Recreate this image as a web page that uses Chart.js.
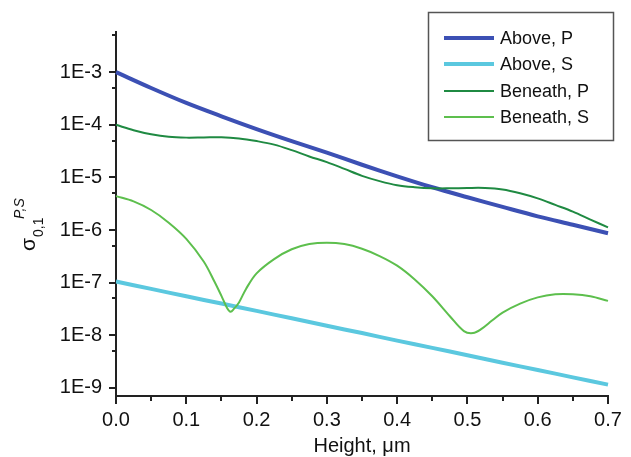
<!DOCTYPE html>
<html>
<head>
<meta charset="utf-8">
<script src="https://cdn.jsdelivr.net/npm/chart.js@4.4.0/dist/chart.umd.min.js"></script>
<style>
body { margin: 0; background: #fff; }
</style>
</head>
<body>
<canvas id="mycanvas" width="631" height="457"></canvas>
<script>
// values (log scale)
var heightAbove = [0, 0.05, 0.1, 0.15, 0.2, 0.25, 0.3, 0.35, 0.4, 0.45, 0.5, 0.55, 0.6, 0.65, 0.7];
var aboveP = [1.0e-3, 5.0e-4, 2.6e-4, 1.45e-4, 8.3e-5, 4.9e-5, 2.95e-5, 1.74e-5, 1.05e-5, 6.5e-6, 4.2e-6, 2.75e-6, 1.82e-6, 1.26e-6, 8.7e-7];
var aboveS = [1.05e-7, 7.6e-8, 5.5e-8, 4.0e-8, 2.9e-8, 2.1e-8, 1.51e-8, 1.10e-8, 7.9e-9, 5.75e-9, 4.17e-9, 3.0e-9, 2.19e-9, 1.58e-9, 1.15e-9];

var heightBeneathP = [0, 0.025, 0.05, 0.075, 0.1, 0.125, 0.15, 0.175, 0.2, 0.225, 0.25, 0.275, 0.3, 0.325, 0.35,
  0.375, 0.4, 0.425, 0.45, 0.475, 0.5, 0.525, 0.55, 0.575, 0.6, 0.625, 0.65, 0.675, 0.7];
var beneathP = [1.0e-4, 7.9e-5, 6.6e-5, 5.9e-5, 5.7e-5, 5.75e-5, 5.8e-5, 5.5e-5, 4.9e-5, 4.2e-5, 3.3e-5, 2.5e-5, 1.95e-5, 1.45e-5, 1.07e-5,
  8.5e-6, 7.1e-6, 6.5e-6, 6.2e-6, 6.2e-6, 6.3e-6, 6.3e-6, 5.9e-6, 5.0e-6, 4.0e-6, 3.0e-6, 2.24e-6, 1.58e-6, 1.12e-6];

var heightBeneathS = [0, 0.025, 0.05, 0.075, 0.1, 0.125, 0.14, 0.15, 0.158, 0.163, 0.168, 0.175, 0.185, 0.2, 0.225, 0.25,
  0.275, 0.3, 0.325, 0.35, 0.375, 0.4, 0.425, 0.45, 0.475, 0.495, 0.508, 0.52, 0.535, 0.55, 0.575, 0.6, 0.625, 0.65, 0.675, 0.7];
var beneathS = [4.4e-6, 3.5e-6, 2.4e-6, 1.38e-6, 6.8e-7, 2.5e-7, 1.05e-7, 5.6e-8, 3.3e-8, 2.8e-8, 3.2e-8, 4.2e-8, 7.6e-8, 1.5e-7, 2.8e-7, 4.3e-7,
  5.4e-7, 5.75e-7, 5.4e-7, 4.4e-7, 3.2e-7, 2.1e-7, 1.15e-7, 5.5e-8, 2.3e-8, 1.2e-8, 1.1e-8, 1.32e-8, 1.9e-8, 2.7e-8, 4.0e-8, 5.25e-8, 6.0e-8, 6.0e-8, 5.5e-8, 4.5e-8];

var seriesNames = ['Above, P', 'Above, S', 'Beneath, P', 'Beneath, S'];
var yTickLabels = ['1E-9', '1E-8', '1E-7', '1E-6', '1E-5', '1E-4', '1E-3'];
var xTickLabels = ['0.0', '0.1', '0.2', '0.3', '0.4', '0.5', '0.6', '0.7'];

var FONT = "'Liberation Sans', Arial, sans-serif";

function pairs(xs, ys) {
	var out = [];
	for (var i in xs) out.push({x: xs[i], y: ys[i]});
	return out;
}

function line(label, xs, ys, color, w, order) {
	return {
		label: label,
		data: pairs(xs, ys),
		borderColor: color,
		backgroundColor: color,
		borderWidth: w,
		pointRadius: 0,
		fill: false,
		tension: 0.35,
		clip: false,
		order: order
	};
}

// major + minor tick values
var yTicks = [];
for (var i in yTickLabels) {
	var v = Number(yTickLabels[i]);
	yTicks.push({value: v, major: true});
	yTicks.push({value: v * 5, major: false});
}
var xTicks = [];
for (var k = 0; k <= 14; k++) {
	xTicks.push({value: Math.round(k * 5) / 100, major: k % 2 === 0});
}

var tickMarks = {
	id: 'tickMarks',
	afterDraw: function(chart) {
		var ctx = chart.ctx, x = chart.scales.x, y = chart.scales.y;
		ctx.save();
		ctx.strokeStyle = '#222';
		ctx.lineWidth = 2;
		y.ticks.forEach(function(t) {
			var p = Math.round(y.getPixelForValue(t.value));
			var len = t.major ? 7 : 4;
			ctx.beginPath();
			ctx.moveTo(y.right, p);
			ctx.lineTo(y.right - len, p);
			ctx.stroke();
		});
		x.ticks.forEach(function(t) {
			var p = Math.round(x.getPixelForValue(t.value));
			var len = t.major ? 8 : 5;
			ctx.beginPath();
			ctx.moveTo(p, x.top);
			ctx.lineTo(p, x.top + len);
			ctx.stroke();
		});
		ctx.restore();
	}
};

var boxLegend = {
	id: 'boxLegend',
	afterDraw: function(chart) {
		var ctx = chart.ctx;
		ctx.save();
		ctx.strokeStyle = '#555';
		ctx.lineWidth = 1.5;
		ctx.strokeRect(428.5, 12.5, 185, 128);
		ctx.font = '18px ' + FONT;
		ctx.fillStyle = '#111';
		ctx.textBaseline = 'middle';
		var rows = [38, 64, 91, 117];
		chart.data.datasets.forEach(function(ds, i) {
			ctx.strokeStyle = ds.borderColor;
			ctx.lineWidth = ds.borderWidth;
			ctx.beginPath();
			ctx.moveTo(444, rows[i]);
			ctx.lineTo(494, rows[i]);
			ctx.stroke();
			ctx.fillText(ds.label, 500, rows[i] + 1);
		});
		ctx.restore();
	}
};

var yTitle = {
	id: 'yTitle',
	afterDraw: function(chart) {
		var ctx = chart.ctx;
		ctx.save();
		ctx.translate(35, 251);
		ctx.rotate(-Math.PI / 2);
		ctx.fillStyle = '#111';
		ctx.textBaseline = 'alphabetic';
		ctx.font = '21px ' + FONT;
		ctx.fillText('σ', 0, 0);
		var w = ctx.measureText('σ').width;
		ctx.font = '14px ' + FONT;
		ctx.fillText('0,1', w + 1, 8);
		ctx.font = 'italic 14px ' + FONT;
		ctx.fillText('P,S', w + 19, -11);
		ctx.restore();
	}
};

var ctx = document.getElementById('mycanvas');

var graph = new Chart(ctx, {
	type: 'line',
	data: {
		datasets: [
			line(seriesNames[0], heightAbove, aboveP, '#3c50b4', 4, 4),
			line(seriesNames[1], heightAbove, aboveS, '#5bc8df', 4, 3),
			line(seriesNames[2], heightBeneathP, beneathP, '#1f8a42', 2, 2),
			line(seriesNames[3], heightBeneathS, beneathS, '#5dbf4d', 2, 1)
		]
	},
	options: {
		responsive: false,
		animation: false,
		layout: { padding: { left: 0, top: 32, right: 23, bottom: 0 } },
		plugins: {
			legend: { display: false },
			tooltip: { enabled: false }
		},
		scales: {
			x: {
				type: 'linear',
				min: 0,
				max: 0.7,
				afterBuildTicks: function(s) { s.ticks = xTicks.map(function(t) { return {value: t.value, major: t.major}; }); },
				afterFit: function(s) { s.height = 61; },
				ticks: {
					autoSkip: false,
					maxRotation: 0,
					padding: 4,
					color: '#111',
					font: { family: FONT, size: 20 },
					callback: function(v, i, ticks) {
						return ticks[i].major ? xTickLabels[Math.round(v * 10)] : '';
					}
				},
				grid: { display: false, tickLength: 8 },
				border: { display: true, color: '#222', width: 2 },
				title: {
					display: true,
					text: 'Height, μm',
					color: '#111',
					font: { family: FONT, size: 20 },
					padding: { top: 0, bottom: -1 }
				}
			},
			y: {
				type: 'logarithmic',
				min: 7e-10,
				max: 5.8e-3,
				afterBuildTicks: function(s) { s.ticks = yTicks.map(function(t) { return {value: t.value, major: t.major}; }); },
				afterFit: function(s) { s.width = 116; },
				ticks: {
					autoSkip: false,
					padding: 7,
					color: '#111',
					font: { family: FONT, size: 20 },
					callback: function(v, i, ticks) {
						if (!ticks[i].major) return '';
						return yTickLabels[Math.round(Math.log10(v)) + 9];
					}
				},
				grid: { display: false, tickLength: 7 },
				border: { display: true, color: '#222', width: 2 }
			}
		}
	},
	plugins: [tickMarks, boxLegend, yTitle]
});
</script>
</body>
</html>
